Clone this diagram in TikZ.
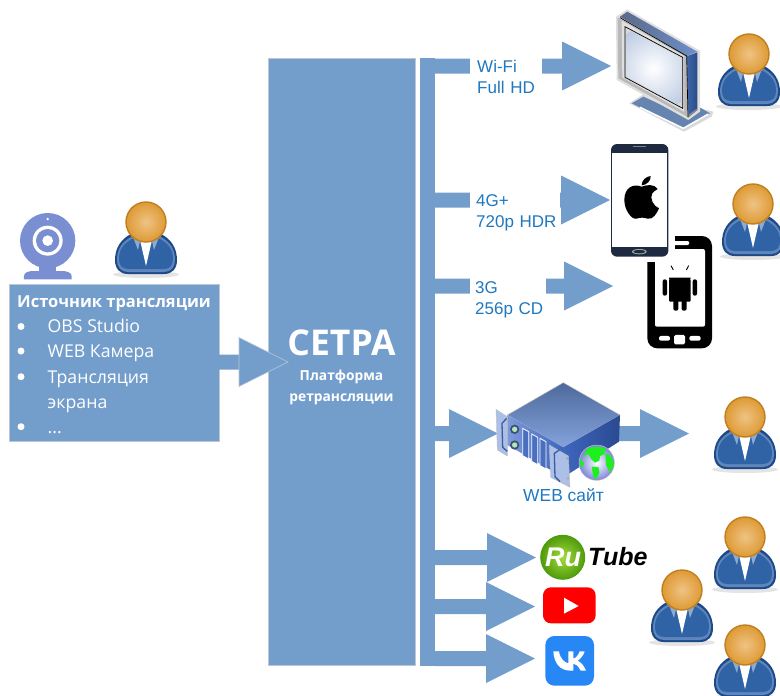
\documentclass[tikz,border=0pt]{standalone}
\usepackage{fontspec}
\setmainfont{Open Sans}
\newfontfamily\arialf{Liberation Sans}
\usetikzlibrary{calc}
\definecolor{bl}{HTML}{739ECC}
\definecolor{edgeg}{HTML}{BCC8D6}
\definecolor{lbl}{HTML}{1F78C0}
\definecolor{camc}{HTML}{7A8FD2}
\definecolor{MyBodyD}{HTML}{1D4A87}
\definecolor{MyBodyL}{HTML}{5F86BC}
\definecolor{MyBodyM}{HTML}{2F63A6}
\definecolor{F0C68F}{HTML}{EFC384}
\definecolor{DE9A35}{HTML}{DE9A35}
\definecolor{C07F1E}{HTML}{C07F1E}
\definecolor{HTMLdark}{HTML}{1E2A40}
\definecolor{GLOBEG}{HTML}{1EF01E}
\definecolor{VKB}{HTML}{2787F5}
\makeatletter
\@for\hx:=5A6A8A,6E8FC8,3E66A8,2A4A88,BCCBE3,4E6A9C,84A3DC,3E66BE,2A4A90,7E9AD8,ACBFE6,3A5CA8,3A4F7E,B8E6B0,4A6EC0,7C86D8,A4DC3A,4E9A0C\do{\definecolor{\hx}{HTML}{\hx}}
\makeatother
\tikzset{
 blockfill/.style={fill=bl},
 bigbox/.style={fill=bl,draw=edgeg,line width=.6pt,inner sep=0pt,outer sep=0pt},
 whitetxt/.style={text=white,inner sep=0pt,anchor=base west,font=\fontsize{17.7}{20}\selectfont},
 bulletdot/.style={circle,fill=white,inner sep=0pt,minimum size=7pt},
 lab/.style={text=lbl,fill=white,inner sep=0pt,anchor=west,align=left,font=\arialf\fontsize{17}{21.5}\selectfont},
 pics/person/.style={code={
   \fill[gray!35,opacity=.6] (0,52.5) ellipse (33 and 3.5);
   \path[fill=MyBodyD] (-15,12) .. controls (-25,17) and (-31,26) .. (-31,38) .. controls (-31,47) and (-26,52) .. (-18,52) -- (18,52) .. controls (26,52) and (31,47) .. (31,38) .. controls (31,26) and (25,17) .. (15,12) -- cycle;
   \path[fill=MyBodyL] (-15,15) .. controls (-24,20) and (-29,27) .. (-29,38) .. controls (-29,45) and (-25,50) .. (-18,50) -- (18,50) .. controls (25,50) and (29,45) .. (29,38) .. controls (29,27) and (24,20) .. (15,15) -- cycle;
   \path[fill=MyBodyM] (-14,17) .. controls (-23,22) and (-27,28) .. (-27,37) .. controls (-27,43) and (-24,47) .. (-18,47) -- (18,47) .. controls (24,47) and (27,43) .. (27,37) .. controls (27,28) and (23,22) .. (14,17) -- cycle;
   \fill[white] (-6,18) -- (6,18) -- (0,44) -- cycle;
   \fill[MyBodyL!70!white] (-13,15) -- (-6,19) -- (-8,28) -- cycle;
   \fill[MyBodyL!70!white] (13,15) -- (6,19) -- (8,28) -- cycle;
   \shade[inner color=F0C68F,outer color=DE9A35,draw=C07F1E,line width=1.4pt] (0,0) circle (20);
 }}
}
\newcommand\conn[2]{%
 \fill[blockfill] let \p1=(#1),\p2=(#2) in
  (\x1,\y2+7.5pt) -- (\x2-49pt,\y2+7.5pt) -- (\x2-49pt,\y2+24.5pt) -- (\p2) -- (\x2-49pt,\y2-24.5pt) -- (\x2-49pt,\y2-7.5pt) -- (\x1,\y2-7.5pt) -- cycle;}
\begin{document}
\begin{tikzpicture}[x=1pt,y=-1pt]
\useasboundingbox (0,0) rectangle (780,696);
% main boxes
\node[bigbox,minimum width=147pt,minimum height=607pt] (setra) at (341.5,361.5) {};
\node[fill=bl,inner sep=0pt,outer sep=0pt,minimum width=15pt,minimum height=607.5pt] (spine) at (427.5,361.8) {};
\node[text=white,inner sep=0pt,font=\bfseries\fontsize{35.5}{40}\selectfont] (stitle) at (341.5,343) {СЕТРА};
\node[text=white,inner sep=0pt,align=center,font=\bfseries\fontsize{13.8}{21}\selectfont] (ssub) at (341.5,387.5) {Платформа\\ретрансляции};
% source
\node[bigbox,minimum width=210pt,minimum height=157.5pt] (src) at (114,363) {};
\node[whitetxt,font=\bfseries\fontsize{16.5}{20}\selectfont] (t0) at (17,307) {Источник трансляции};
\node[bulletdot] (b1) at (21,326.5) {};
\node[whitetxt] (t1) at (47.5,332) {OBS Studio};
\node[bulletdot] (b2) at (21,351) {};
\node[whitetxt] (t2) at (47.5,357) {WEB Камера};
\node[bulletdot] (b3) at (21,376.7) {};
\node[whitetxt] (t3) at (47.5,383) {Трансляция};
\node[whitetxt] (t3b) at (47.5,408) {экрана};
\node[bulletdot] (b4) at (21,426.7) {};
\node[whitetxt] (t4) at (47.5,433) {...};
% tips
\coordinate (tipsetra) at (288,362);
\coordinate (tiptv) at (611,66);
\coordinate (tipios) at (610,200);
\coordinate (tipand) at (613,286);
\coordinate (tipweb) at (498,433.5);
\coordinate (tipout) at (689,433.5);
\coordinate (tiprt) at (536,557.5);
\coordinate (tipyt) at (535,606.5);
\coordinate (tipvk) at (535,658.5);
\coordinate (srvout) at (618,433.5);
% arrows
\conn{spine.east}{tiptv}
\conn{spine.east}{tipios}
\conn{spine.east}{tipand}
\conn{spine.east}{tipweb}
\conn{srvout}{tipout}
\conn{spine.east}{tipvk}
\conn{spine.east}{tipyt}
\conn{spine.east}{tiprt}
\conn{src.east}{tipsetra}
\draw[edgeg,line width=.6pt] let \p1=(tipsetra) in (\x1-49pt,\y1+24.5pt) -- (\p1) -- (\x1-49pt,\y1-24.5pt) -- cycle;
% labels
\node[lab,minimum width=72pt,minimum height=46pt,text width=72pt] (wifi) at (470,77) {\hspace*{7pt}Wi-Fi\\\hspace*{7pt}Full HD};
\node[lab,minimum width=90pt,minimum height=46pt,text width=90pt] (g4) at (470,213) {\hspace*{6pt}4G+\\\hspace*{6pt}720p HDR};
\node[lab,minimum width=76pt,minimum height=46pt,text width=76pt] (g3) at (470,300) {\hspace*{5pt}3G\\\hspace*{5pt}256p CD};
\node[text=lbl,inner sep=0pt,font=\arialf\fontsize{17.4}{18}\selectfont] (web) at (563.5,495) {WEB сайт};
% people
\pic at (146,222) {person};
\pic at (749,54) {person};
\pic at (753,204) {person};
\pic at (745,417) {person};
\pic at (745,537) {person};
\pic at (682,590) {person};
\begin{scope}
\clip (700,600) rectangle (780,696);
\pic at (745,645) {person};
\end{scope}
% webcam
\begin{scope}[shift={(0,190)},scale=1/3]
\fill[camc] (143,152) circle (83);
\fill[camc] (118,225) rectangle (168,245);
\fill[camc] (72,268) -- (72,258) .. controls (72,248) and (85,243) .. (100,243) -- (186,243) .. controls (201,243) and (215,248) .. (215,258) -- (215,268) -- cycle;
\fill[white] (143,152) circle (45);
\fill[camc] (143,152) circle (35);
\fill[white] (143,152) circle (16);
\fill[white] (143,87) circle (4);
\end{scope}
% TV
\begin{scope}[shift={(540,0)},scale=1/3]
\fill[lightgray!60] (268,310) -- (310,283) -- (520,335) -- (515,350) -- (432,395) -- cycle;
\fill[MyBodyL!80!gray] (275,310) -- (310,290) -- (445,352) -- (475,320) -- (510,340) -- (430,385) -- cycle;
\draw[white,line width=1.5pt] (300,322) -- (430,385) -- (505,342);
\fill[lightgray!50] (228,50) -- (262,28) -- (480,152) -- (480,335) -- (445,360) -- (230,240) -- cycle;
\shade[left color=5A6A8A,right color=6E8FC8] (240,50) -- (262,35) -- (472,155) -- (440,168) -- cycle;
\shade[left color=3E66A8,right color=2A4A88] (442,168) -- (472,157) -- (472,330) -- (445,352) -- cycle;
\fill[black!45] (445,352) -- (472,330) -- (472,325) -- (445,345) -- cycle;
\fill[gray!55] (233,52) -- (440,168) -- (445,352) -- (235,235) -- cycle;
\fill[gray!25] (245,62) -- (432,168) -- (432,335) -- (247,232) -- cycle;
\draw[black,line width=.7pt] (240,53) -- (440,168) -- (444,352);
\draw[black,line width=.7pt,fill=gray!30] (255,80) -- (428,172) -- (428,325) -- (255,232) -- cycle;
\begin{scope}
\clip (258,86) -- (424,175) -- (424,319) -- (258,228) -- cycle;
\shade[inner color=white,outer color=BCCBE3] (340,205) circle (130);
\end{scope}
\end{scope}
% android phone
\begin{scope}[shift={(590,130)},scale=1/3]
\fill[black,rounded corners=10pt] (172,318) rectangle (366,655);
\fill[white,rounded corners=2pt] (195,357) rectangle (345,590);
\fill[white,rounded corners=2pt] (240,333) rectangle (298,345);
\fill[white,rounded corners=2pt] (207,618) rectangle (240,632);
\fill[white,rounded corners=1.5pt] (252,615) rectangle (285,643);
\fill[white,rounded corners=2pt] (298,618) rectangle (332,632);
\fill[white] (150,300) rectangle (255,395);
% robot
\fill[black] (237,443) arc (180:0:32.5 and 30) -- cycle;
\draw[black,line width=.9pt] (250,420) -- (243,407) (289,420) -- (296,407);
\fill[white] (255,428) circle (3) (284,428) circle (3);
\fill[black,rounded corners=1pt] (237,448) rectangle (302,515);
\fill[black,rounded corners=2pt] (218,448) rectangle (231,497);
\fill[black,rounded corners=2pt] (308,448) rectangle (321,497);
\fill[black,rounded corners=2pt] (250,505) rectangle (265,542);
\fill[black,rounded corners=2pt] (275,505) rectangle (290,542);
% iphone
\fill[HTMLdark,rounded corners=6pt] (63,42) rectangle (235,380);
\fill[white] (67,70) rectangle (232,350);
\fill[gray!70] (148,365) ellipse (22 and 8);
\fill[HTMLdark] (148,365) ellipse (18 and 5);
\draw[gray,line width=.8pt] (128,50) -- (168,50);
% apple
\fill[black] (155,170) .. controls (130,160) and (103,172) .. (103,210) .. controls (103,240) and (125,270) .. (140,266) .. controls (150,262) and (162,262) .. (172,266) .. controls (190,270) and (200,250) .. (207,235) .. controls (190,228) and (178,205) .. (187,190) .. controls (190,185) and (198,180) .. (203,177) .. controls (190,160) and (170,165) .. (155,170) -- cycle;
\fill[black] (155,166) .. controls (155,150) and (168,140) .. (182,138) .. controls (183,153) and (170,165) .. (155,166) -- cycle;
\end{scope}
% server
\begin{scope}[shift={(420,370)},scale=1/3]
\shade[top color=4E6A9C,bottom color=84A3DC,draw=lightgray,line width=.4pt] (262,135) -- (430,38) -- (600,135) -- (430,232) -- cycle;
\shade[left color=3E66BE,right color=2A4A90] (430,232) -- (600,135) -- (597,215) -- (430,322) -- cycle;
\shade[left color=7E9AD8,right color=3E66BE] (262,135) -- (430,232) -- (430,322) -- (262,225) -- cycle;
% slots
\foreach \sx/\sy in {308/175,335/192,360/205}{
 \draw[white,line width=.8pt,fill=4A6EC0] (\sx,\sy) -- ++(18,10) -- ++(0,82) -- ++(-18,-10) -- cycle;
}
% ears
\fill[ACBFE6,draw=lightgray,line width=.4pt] (228,118) -- (262,140) -- (262,258) -- (232,240) -- cycle;
\fill[ACBFE6,draw=lightgray,line width=.4pt] (388,225) -- (445,258) -- (450,352) -- (392,322) -- cycle;
\draw[3A5CA8,line width=1.3pt] (260,145) -- (246,160) -- (248,232) -- (262,244);
\draw[3A5CA8,line width=1.3pt] (418,240) -- (403,250) -- (405,320) -- (420,335);
\fill[gray!70] (442,265) circle (4) (444,325) circle (4);
% buttons
\fill[3A4F7E] (284,178) circle (14) (284,225) circle (14);
\fill[B8E6B0] (284,178) circle (8) (284,225) circle (8);
% globe
\shade[inner color=white,outer color=7C86D8,draw=lightgray,line width=.5pt] (530,278) circle (53);
\fill[GLOBEG] (503,235) .. controls (520,228) and (545,228) .. (558,238) -- (552,252) -- (540,258) -- (538,272) -- (525,278) -- (514,268) -- (505,252) -- (490,258) -- cycle;
\fill[GLOBEG] (556,250) -- (574,258) -- (582,285) -- (570,308) -- (558,285) -- cycle;
\fill[GLOBEG] (515,290) -- (536,292) -- (538,308) -- (528,328) -- (520,320) -- cycle;
\fill[GLOBEG] (480,265) -- (492,280) -- (488,292) -- (480,285) -- cycle;
\end{scope}
% Rutube
\shade[inner color=A4DC3A,outer color=4E9A0C] (562.7,557.3) circle (22.5);
\node[text=white,inner sep=0pt,font=\arialf\bfseries\itshape\fontsize{27}{30}\selectfont] (ru) at (563,557) {Ru};
\node[text=black,inner sep=0pt,anchor=west,font=\arialf\bfseries\itshape\fontsize{25}{28}\selectfont] (tube) at (588,557) {Tube};
% YouTube
\begin{scope}[shift={(420,510)},scale=1/3]
\fill[red,rounded corners=8pt] (369,232) rectangle (527,340);
\fill[white] (432,263) -- (476,288) -- (432,311) -- cycle;
% VK
\fill[VKB,rounded corners=9pt] (376,378) rectangle (522,527);
\fill[white] (400,424) .. controls (402,460) and (420,482) .. (452,482) -- (460,482) -- (460,461) .. controls (468,462) and (475,468) .. (482,482) -- (498,482) .. controls (492,466) and (482,456) .. (473,452) .. controls (481,447) and (490,437) .. (494,424) -- (479,424) .. controls (476,434) and (468,444) .. (460,446) -- (460,424) -- (445,424) -- (445,460) .. controls (435,458) and (420,447) .. (417,424) -- cycle;
\end{scope}
\end{tikzpicture}
\end{document}
